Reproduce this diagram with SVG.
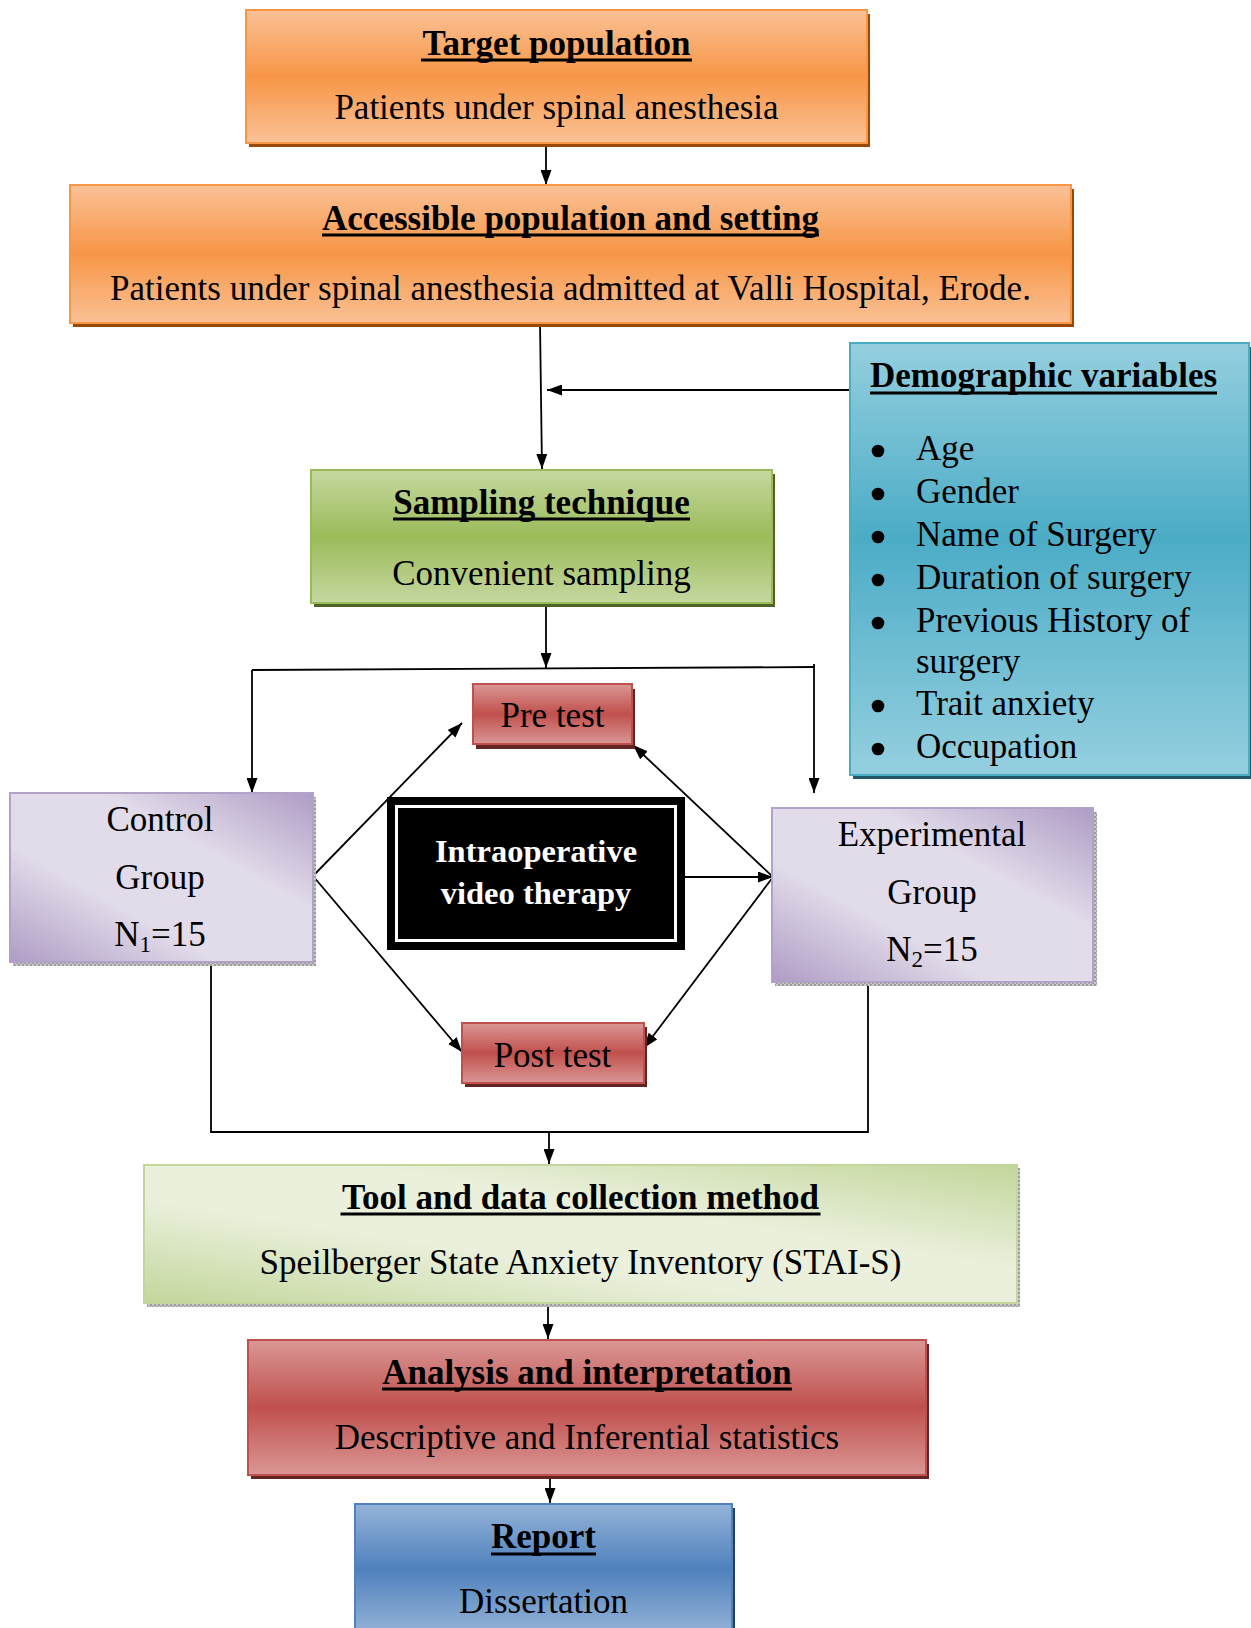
<svg xmlns="http://www.w3.org/2000/svg" width="1251" height="1628" viewBox="0 0 1251 1628">
<defs>
<linearGradient id="gOrange" x1="0" y1="0" x2="0" y2="1">
<stop offset="0" stop-color="#FAC196"/><stop offset="0.5" stop-color="#F79646"/><stop offset="1" stop-color="#FAC196"/>
</linearGradient>
<linearGradient id="gGreen" x1="0" y1="0" x2="0" y2="1">
<stop offset="0" stop-color="#C5D8A0"/><stop offset="0.5" stop-color="#9BBB59"/><stop offset="1" stop-color="#C5D8A0"/>
</linearGradient>
<linearGradient id="gBlue" x1="0" y1="0" x2="0" y2="1">
<stop offset="0" stop-color="#95CFDF"/><stop offset="0.45" stop-color="#4BACC6"/><stop offset="1" stop-color="#95CFDF"/>
</linearGradient>
<linearGradient id="gRed" x1="0" y1="0" x2="0" y2="1">
<stop offset="0" stop-color="#DA9795"/><stop offset="0.5" stop-color="#C0504D"/><stop offset="1" stop-color="#DA9795"/>
</linearGradient>
<linearGradient id="gReport" x1="0" y1="0" x2="0" y2="1">
<stop offset="0" stop-color="#95B3D7"/><stop offset="0.5" stop-color="#4F81BD"/><stop offset="1" stop-color="#95B3D7"/>
</linearGradient>
<linearGradient id="gLav" x1="0" y1="1" x2="1" y2="0">
<stop offset="0" stop-color="#AE9CC5"/><stop offset="0.35" stop-color="#E2DCEA"/><stop offset="0.65" stop-color="#E2DCEA"/><stop offset="1" stop-color="#AE9CC5"/>
</linearGradient>
<linearGradient id="gLight" x1="0" y1="1" x2="1" y2="0">
<stop offset="0" stop-color="#C3D69B"/><stop offset="0.38" stop-color="#EAF0DC"/><stop offset="0.62" stop-color="#EAF0DC"/><stop offset="1" stop-color="#C3D69B"/>
</linearGradient>
<pattern id="pGray" width="4" height="4" patternUnits="userSpaceOnUse">
<rect width="4" height="4" fill="#9d9d9d"/><rect width="2" height="2" fill="#c8c8c8"/><rect x="2" y="2" width="2" height="2" fill="#c8c8c8"/>
</pattern>
<marker id="arr" viewBox="0 0 15 11" refX="15" refY="5.5" markerWidth="15" markerHeight="11" markerUnits="userSpaceOnUse" orient="auto">
<path d="M0,0 L15,5.5 L0,11 z" fill="#000"/>
</marker>
</defs>
<style>
text{font-family:"Liberation Serif","Times New Roman",serif;font-size:35px;fill:#000}
.t{font-weight:bold}
.c{text-anchor:middle}
.ul{stroke:#000;stroke-width:3}
.ln{fill:none;stroke:#000;stroke-width:1.8}
.ar{fill:none;stroke:#000;stroke-width:1.8;marker-end:url(#arr)}
.iv{font-weight:bold;font-size:32.5px;fill:#fff}
</style>
<rect width="1251" height="1628" fill="#fff"/>

<g id="connectors">
<line class="ar" x1="546" y1="143" x2="546" y2="185"/>
<line class="ar" x1="540" y1="323" x2="542" y2="469"/>
<line class="ar" x1="851" y1="390" x2="547" y2="390"/>
<line class="ar" x1="546" y1="603" x2="546" y2="668"/>
<polyline class="ln" points="252,670 814,667"/>
<line class="ar" x1="252" y1="670" x2="252" y2="793"/>
<line class="ar" x1="814" y1="664" x2="814" y2="793"/>
<line class="ar" x1="313" y1="876" x2="462" y2="723"/>
<line class="ar" x1="313" y1="876" x2="462" y2="1052"/>
<line class="ar" x1="773" y1="877" x2="633" y2="745"/>
<line class="ar" x1="773" y1="877" x2="644" y2="1048"/>
<line class="ar" x1="685" y1="877" x2="773" y2="877"/>
<polyline class="ln" points="211,963 211,1132 868,1132 868,983"/>
<line class="ar" x1="549" y1="1132" x2="549" y2="1164"/>
<line class="ar" x1="548" y1="1304" x2="548" y2="1339"/>
<line class="ar" x1="550" y1="1476" x2="550" y2="1503"/>
</g>

<g id="target">
<rect x="249" y="14" width="621" height="133" fill="#984807"/>
<rect x="246" y="10" width="621" height="133" fill="url(#gOrange)" stroke="#F79646" stroke-width="2"/>
<text class="t c" x="556.5" y="55">Target population</text>
<line class="ul" x1="421" y1="60" x2="692" y2="60"/>
<text class="c" x="556.5" y="119">Patients under spinal anesthesia</text>
</g>

<g id="accessible">
<rect x="73" y="189" width="1001" height="138" fill="#984807"/>
<rect x="70" y="185" width="1001" height="138" fill="url(#gOrange)" stroke="#F79646" stroke-width="2"/>
<text class="t c" x="570.5" y="230">Accessible population and setting</text>
<line class="ul" x1="322" y1="235" x2="819" y2="235"/>
<text class="c" x="570.5" y="300">Patients under spinal anesthesia admitted at Valli Hospital, Erode.</text>
</g>

<g id="demographic">
<rect x="853" y="347" width="400" height="432" fill="#215968"/>
<rect x="850" y="343" width="399" height="432" fill="url(#gBlue)" stroke="#4BACC6" stroke-width="2"/>
<text class="t" x="870" y="387">Demographic variables</text>
<line class="ul" x1="870" y1="393" x2="1217" y2="393"/>
<circle cx="878" cy="451" r="6.3"/><text x="916" y="460">Age</text>
<circle cx="878" cy="494" r="6.3"/><text x="916" y="503">Gender</text>
<circle cx="878" cy="537" r="6.3"/><text x="916" y="546">Name of Surgery</text>
<circle cx="878" cy="580" r="6.3"/><text x="916" y="589">Duration of surgery</text>
<circle cx="878" cy="623" r="6.3"/><text x="916" y="632">Previous History of</text>
<text x="916" y="673">surgery</text>
<circle cx="878" cy="706" r="6.3"/><text x="916" y="715">Trait anxiety</text>
<circle cx="878" cy="749" r="6.3"/><text x="916" y="758">Occupation</text>
</g>

<g id="sampling">
<rect x="314" y="474" width="461" height="133" fill="#4F6228"/>
<rect x="311" y="470" width="461" height="133" fill="url(#gGreen)" stroke="#9BBB59" stroke-width="2"/>
<text class="t c" x="541.5" y="514">Sampling technique</text>
<line class="ul" x1="393" y1="519" x2="690" y2="519"/>
<text class="c" x="541.5" y="585">Convenient sampling</text>
</g>

<g id="pretest">
<rect x="476" y="689" width="159" height="60" fill="#632523"/>
<rect x="473" y="684" width="159" height="60" fill="url(#gRed)" stroke="#C0504D" stroke-width="2"/>
<text class="c" x="552.5" y="727">Pre test</text>
</g>

<g id="control">
<rect x="13" y="797" width="303" height="169" fill="url(#pGray)"/>
<rect x="10" y="793" width="303" height="169" fill="url(#gLav)" stroke="#B3A2C7" stroke-width="2"/>
<text class="c" x="160" y="831">Control</text>
<text class="c" x="160" y="889">Group</text>
<text class="c" x="160" y="946">N<tspan font-size="23" dy="6">1</tspan><tspan dy="-6">=15</tspan></text>
</g>

<g id="intervention">
<rect x="387" y="797" width="298" height="153" fill="#000"/>
<rect x="396.5" y="806.5" width="279" height="134" fill="none" stroke="#fff" stroke-width="3"/>
<text class="iv c" x="536" y="862">Intraoperative</text>
<text class="iv c" x="536" y="904">video therapy</text>
</g>

<g id="experimental">
<rect x="775" y="812" width="322" height="174" fill="url(#pGray)"/>
<rect x="772" y="808" width="321" height="174" fill="url(#gLav)" stroke="#B3A2C7" stroke-width="2"/>
<text class="c" x="932" y="846">Experimental</text>
<text class="c" x="932" y="904">Group</text>
<text class="c" x="932" y="961">N<tspan font-size="23" dy="6">2</tspan><tspan dy="-6">=15</tspan></text>
</g>

<g id="posttest">
<rect x="465" y="1027" width="182" height="60" fill="#632523"/>
<rect x="462" y="1023" width="182" height="60" fill="url(#gRed)" stroke="#C0504D" stroke-width="2"/>
<text class="c" x="552.5" y="1067">Post test</text>
</g>

<g id="tool">
<rect x="147" y="1168" width="873" height="139" fill="url(#pGray)"/>
<rect x="144" y="1165" width="873" height="138" fill="url(#gLight)" stroke="#C3D69B" stroke-width="2"/>
<text class="t c" x="580.5" y="1209">Tool and data collection method</text>
<line class="ul" x1="340.5" y1="1214" x2="820.5" y2="1214"/>
<text class="c" x="580.5" y="1274">Speilberger State Anxiety Inventory (STAI-S)</text>
</g>

<g id="analysis">
<rect x="251" y="1344" width="678" height="135" fill="#632523"/>
<rect x="248" y="1340" width="678" height="135" fill="url(#gRed)" stroke="#C0504D" stroke-width="2"/>
<text class="t c" x="587" y="1384">Analysis and interpretation</text>
<line class="ul" x1="382" y1="1389" x2="792" y2="1389"/>
<text class="c" x="587" y="1449">Descriptive and Inferential statistics</text>
</g>

<g id="report">
<rect x="358" y="1508" width="377" height="125" fill="#244061"/>
<rect x="355" y="1504" width="377" height="130" fill="url(#gReport)" stroke="#4F81BD" stroke-width="2"/>
<text class="t c" x="543.5" y="1548">Report</text>
<line class="ul" x1="491" y1="1554" x2="596" y2="1554"/>
<text class="c" x="543.5" y="1613">Dissertation</text>
</g>
</svg>
